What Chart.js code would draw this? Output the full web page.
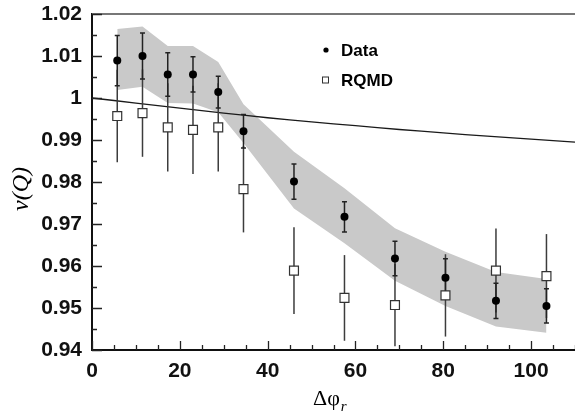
<!DOCTYPE html>
<html><head><meta charset="utf-8">
<script src="https://cdn.jsdelivr.net/npm/chart.js@4/dist/chart.umd.min.js"></script>
<style>html,body{margin:0;padding:0;background:#fff;}#wrap{width:575px;height:413px;position:relative;}</style>
</head><body><div id="wrap"><canvas id="c" width="575" height="413"></canvas></div>
<script>
// ---- data ----
const binX = [5.75, 11.5, 17.25, 23, 28.75, 34.5, 46, 57.5, 69, 80.5, 92, 103.5];
const dataY = [1.0089, 1.0100, 1.0056, 1.0056, 1.0014, 0.9921, 0.9801, 0.9717, 0.9618, 0.9572, 0.9517, 0.9505];
const dataErr = [0.0060, 0.0055, 0.0052, 0.0042, 0.0038, 0.0040, 0.0042, 0.0036, 0.0041, 0.0045, 0.0042, 0.0041];
const rqmdY = [0.9957, 0.9964, 0.9930, 0.9924, 0.9930, 0.9783, 0.9589, 0.9524, 0.9507, 0.9530, 0.9589, 0.9576];
const rqmdErr = [0.0110, 0.0104, 0.0105, 0.0105, 0.0105, 0.0103, 0.0103, 0.0102, 0.0098, 0.0098, 0.0100, 0.0100];
const bandHi = [1.0164, 1.0170, 1.0124, 1.0124, 1.0086, 0.9985, 0.9872, 0.9785, 0.9690, 0.9634, 0.9586, 0.9569];
const bandLo = [1.0019, 1.0027, 0.9988, 0.9987, 0.9966, 0.9893, 0.9737, 0.9654, 0.9565, 0.9505, 0.9456, 0.9441];
const theoryX = [0, 10, 20, 30, 40, 50, 60, 70, 80, 90, 100, 110];
const theoryY = [1.0000, 0.9988, 0.9976, 0.9964, 0.9953, 0.9943, 0.9934, 0.9925, 0.9917, 0.9909, 0.9902, 0.9895];
const xTickValues = [0, 20, 40, 60, 80, 100];
const xTickLabels = ['0', '20', '40', '60', '80', '100'];
const yTickValues = [0.94, 0.95, 0.96, 0.97, 0.98, 0.99, 1.00, 1.01, 1.02];
const yTickLabels = ['0.94', '0.95', '0.96', '0.97', '0.98', '0.99', '1', '1.01', '1.02'];
const legendLabels = ['Data', 'RQMD'];
const xTitle = 'Δφ';
const xTitleSub = 'r';
const yTitle = 'ν(Q)';

const pts = (xs, ys) => xs.map((x, i) => ({x: x, y: ys[i]}));

const decor = {
  id: 'decor',
  beforeDatasetDraw(chart, args) {
    if (args.index !== 1) return;
    const c = chart.ctx, xs = chart.scales.x, ys = chart.scales.y;
    c.save();
    c.lineCap = 'butt';
    // RQMD error bars
    c.strokeStyle = '#3c3c3c'; c.lineWidth = 1.5;
    binX.forEach((x, i) => {
      const px = xs.getPixelForValue(x);
      c.beginPath();
      c.moveTo(px, ys.getPixelForValue(rqmdY[i] + rqmdErr[i]));
      c.lineTo(px, ys.getPixelForValue(rqmdY[i] - rqmdErr[i]));
      c.stroke();
    });
    // Data error bars with small caps
    c.strokeStyle = '#222'; c.lineWidth = 1.5;
    binX.forEach((x, i) => {
      const px = xs.getPixelForValue(x);
      const y1 = ys.getPixelForValue(dataY[i] + dataErr[i]);
      const y2 = ys.getPixelForValue(dataY[i] - dataErr[i]);
      c.beginPath();
      c.moveTo(px, y1); c.lineTo(px, y2);
      c.moveTo(px - 2.5, y1); c.lineTo(px + 2.5, y1);
      c.moveTo(px - 2.5, y2); c.lineTo(px + 2.5, y2);
      c.stroke();
    });
    c.restore();
  },
  afterDraw(chart) {
    const c = chart.ctx, xs = chart.scales.x, ys = chart.scales.y, a = chart.chartArea;
    c.save();
    // top frame
    c.strokeStyle = '#777'; c.lineWidth = 2;
    c.beginPath(); c.moveTo(a.left, a.top); c.lineTo(a.right, a.top); c.stroke();
    // inward ticks
    c.strokeStyle = '#222'; c.lineWidth = 1.3;
    c.beginPath();
    for (let v = 0; v <= 110; v += 5) {
      const px = Math.round(xs.getPixelForValue(v)) + 0.5;
      const len = (v % 20 === 0) ? 9 : 5;
      c.moveTo(px, a.bottom); c.lineTo(px, a.bottom - len);
    }
    for (let k = 0; k <= 16; k++) {
      const v = 0.94 + k * 0.005;
      const py = Math.round(ys.getPixelForValue(v)) + 0.5;
      const len = (k % 2 === 0) ? 10 : 5;
      c.moveTo(a.left, py); c.lineTo(a.left + len, py);
    }
    c.stroke();
    // legend
    c.fillStyle = '#000';
    c.beginPath(); c.arc(326, 50, 2.6, 0, Math.PI * 2); c.fill();
    c.strokeStyle = '#333'; c.lineWidth = 1;
    c.fillStyle = '#fff';
    c.fillRect(322.5, 77, 6, 6); c.strokeRect(322.5, 77, 6, 6);
    c.fillStyle = '#000';
    c.font = 'bold 17px "Liberation Sans", Arial, sans-serif';
    c.textBaseline = 'middle'; c.textAlign = 'left';
    c.fillText(legendLabels[0], 341, 51);
    c.fillText(legendLabels[1], 341, 81);
    // x title with subscript
    c.font = '22px "Liberation Serif", "Times New Roman", serif';
    c.textBaseline = 'alphabetic';
    c.fillText(xTitle, 313, 405);
    const w = c.measureText(xTitle).width;
    c.font = 'italic 15px "Liberation Serif", "Times New Roman", serif';
    c.fillText(xTitleSub, 313 + w + 1, 411);
    // y title rotated
    c.translate(22, 189);
    c.rotate(-Math.PI / 2);
    c.font = 'italic 24px "Liberation Serif", "Times New Roman", serif';
    c.textAlign = 'center'; c.textBaseline = 'middle';
    c.fillText(yTitle, 0, 0);
    c.restore();
  }
};

const zeroPad = s => { s.paddingLeft = 0; s.paddingRight = 0; s.paddingTop = 0; s.paddingBottom = 0; };

new Chart(document.getElementById('c'), {
  type: 'scatter',
  data: {
    datasets: [
      { label: legendLabels[0], data: pts(binX, dataY), pointStyle: 'circle', pointRadius: 4,
        backgroundColor: '#000', borderColor: '#000', borderWidth: 0, showLine: false },
      { label: legendLabels[1], data: pts(binX, rqmdY), pointStyle: 'rect', pointRadius: 6.3,
        backgroundColor: '#fff', borderColor: '#333', borderWidth: 1.2, showLine: false },
      { label: 'theory', data: pts(theoryX, theoryY), showLine: true, pointRadius: 0,
        borderColor: '#1a1a1a', borderWidth: 1.3, fill: false, tension: 0.3 },
      { label: 'band hi', data: pts(binX, bandHi), showLine: true, pointRadius: 0,
        borderWidth: 0, borderColor: 'rgba(0,0,0,0)', backgroundColor: '#c9c9c9', fill: '+1' },
      { label: 'band lo', data: pts(binX, bandLo), showLine: true, pointRadius: 0,
        borderWidth: 0, borderColor: 'rgba(0,0,0,0)', fill: false }
    ]
  },
  options: {
    responsive: false,
    animation: false,
    devicePixelRatio: 1,
    layout: { autoPadding: false, padding: { top: 14, right: 0, left: 0, bottom: 0 } },
    plugins: { legend: { display: false }, tooltip: { enabled: false } },
    scales: {
      x: {
        type: 'linear', min: 0, max: 110,
        afterBuildTicks: s => { s.ticks = xTickValues.map(v => ({value: v})); },
        afterFit: s => { s.height = 63; zeroPad(s); },
        grid: { display: false, drawTicks: false },
        border: { display: true, color: '#111', width: 2 },
        ticks: {
          padding: 9, color: '#111',
          font: { family: '"Liberation Sans", Arial, sans-serif', size: 21, weight: 'bold' },
          callback: v => xTickLabels[xTickValues.indexOf(v)]
        }
      },
      y: {
        type: 'linear', min: 0.94, max: 1.02,
        afterBuildTicks: s => { s.ticks = yTickValues.map(v => ({value: v})); },
        afterFit: s => { s.width = 92; zeroPad(s); },
        grid: { display: false, drawTicks: false },
        border: { display: true, color: '#111', width: 2 },
        ticks: {
          padding: 10, color: '#111',
          font: { family: '"Liberation Sans", Arial, sans-serif', size: 21, weight: 'bold' },
          callback: v => {
            const i = yTickValues.findIndex(t => Math.abs(t - v) < 1e-9);
            return i >= 0 ? yTickLabels[i] : '';
          }
        }
      }
    }
  },
  plugins: [decor]
});
</script>
</body></html>
